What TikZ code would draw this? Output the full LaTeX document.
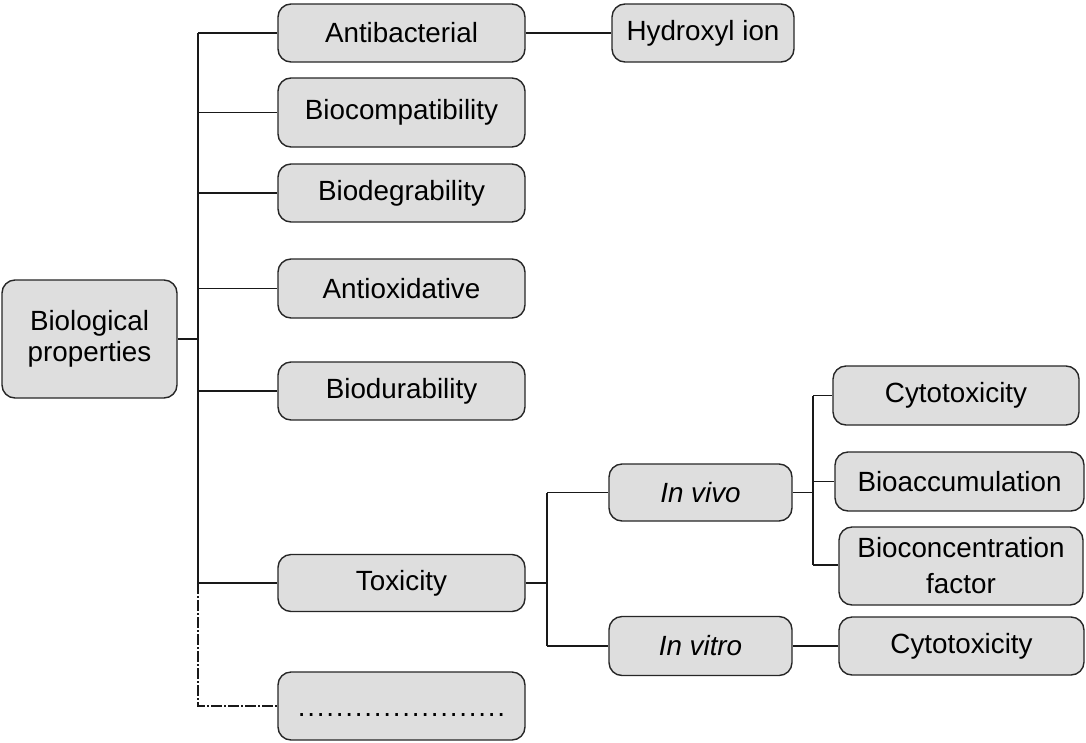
\documentclass[tikz,border=0pt]{standalone}
\usepackage{fontspec}
\setmainfont{Liberation Sans}
\begin{document}
\begin{tikzpicture}[x=1pt,y=-1pt,
  box/.style={draw=black!85, line width=1.4pt, fill=black!13, rounded corners=13pt,
    inner sep=0pt, align=center, anchor=center,
    font=\fontsize{27.8}{31}\selectfont},
  link/.style={draw=black!90, line width=1.2pt},
  dashlink/.style={link, dash pattern=on 11pt off 2pt on 2pt off 2pt}]
\useasboundingbox (0,0) rectangle (1086,742);

% root
\node[box, minimum width=175pt, minimum height=118pt] (bio) at (89.5,339) {Biological\\properties};

% first level
\node[box, minimum width=247pt, minimum height=58pt] (antib)   at (401.5,33)    {Antibacterial};
\node[box, minimum width=247pt, minimum height=69pt] (biocomp) at (401.5,112.5) {Biocompatibility};
\node[box, minimum width=247pt, minimum height=58pt] (biodeg)  at (401.5,193)   {Biodegrability};
\node[box, minimum width=247pt, minimum height=59pt] (antiox)  at (401.5,288.5) {Antioxidative};
\node[box, minimum width=247pt, minimum height=58pt] (biodur)  at (401.5,391)   {Biodurability};
\node[box, minimum width=247pt, minimum height=57pt] (tox)     at (401.5,583)   {Toxicity};
\node[box, minimum width=247pt, minimum height=68pt,
      label={[inner sep=0pt, anchor=base, yshift=-9pt, font=\fontsize{27.8}{31}\selectfont]center:%
        \makebox[209pt]{\xleaders\hbox to 9.5pt{\hss.\hss}\hfill}}] (more) at (401.5,706) {};

% second level
\node[box, minimum width=182pt, minimum height=58pt] (hydro)   at (703,33)      {Hydroxyl ion};
\node[box, minimum width=183pt, minimum height=57pt] (invivo)  at (700.5,492.5) {\itshape In vivo};
\node[box, minimum width=183pt, minimum height=59pt] (invitro) at (700.5,646)   {\itshape In vitro};

% third level
\node[box, minimum width=246pt, minimum height=59pt] (cyto1)  at (956,395.5)   {Cytotoxicity};
\node[box, minimum width=249pt, minimum height=59pt] (bioacc) at (959.5,481.5) {Bioaccumulation};
\node[box, minimum width=244pt, minimum height=78pt,
      font=\fontsize{27.8}{36}\selectfont] (biocon) at (961,566) {Bioconcentration\\factor};
\node[box, minimum width=245pt, minimum height=58pt] (cyto2)  at (961.5,646)   {Cytotoxicity};

% junction columns
\coordinate (trunk) at (198,0);
\coordinate (toxj)  at (547,0);
\coordinate (vivoj) at (813,0);

% root trunk
\draw[link] (trunk |- antib.west) -- (trunk |- tox.west);
\draw[dashlink] (trunk |- tox.west) -- (trunk |- more.west) -- (more.west);
\draw[link] (bio.east) -- (trunk |- bio.east);
\foreach \n in {antib,biocomp,biodeg,antiox,biodur,tox}
  \draw[link] (trunk |- \n.west) -- (\n.west);
\draw[link] (antib.east) -- (hydro.west);

% toxicity branch
\draw[link] (tox.east) -- (toxj |- tox.east);
\draw[link] (toxj |- invivo.west) -- (toxj |- invitro.west);
\draw[link] (toxj |- invivo.west) -- (invivo.west);
\draw[link] (toxj |- invitro.west) -- (invitro.west);
\draw[link] (invitro.east) -- (cyto2.west);

% in vivo branch
\draw[link] (invivo.east) -- (vivoj |- invivo.east);
\draw[link] (vivoj |- cyto1.west) -- (vivoj |- 0,565);
\foreach \n in {cyto1,bioacc}
  \draw[link] (vivoj |- \n.west) -- (\n.west);
\draw[link] (vivoj |- 0,565) -- (biocon.west |- 0,565);
\end{tikzpicture}
\end{document}
